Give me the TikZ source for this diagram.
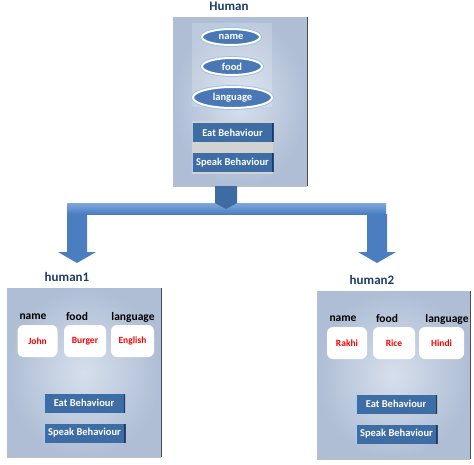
\documentclass[tikz,border=0pt]{standalone}
\usepackage{fontspec}
\setmainfont{Carlito}
\usetikzlibrary{shapes.geometric}

\definecolor{panelin}{HTML}{D6DFEC}
\definecolor{panelout}{HTML}{AFBED5}
\definecolor{edgedark}{HTML}{4A4D52}
\definecolor{btnblue}{HTML}{3E6DA6}
\definecolor{btnlight}{HTML}{A9CDEE}
\definecolor{btndark}{HTML}{1F3A5E}
\definecolor{ellblue}{HTML}{4A78B6}
\definecolor{ellrim}{HTML}{9CC0E6}
\definecolor{flow}{HTML}{4A7EC0}
\definecolor{flowlight}{HTML}{7FA8DC}
\definecolor{titlecol}{HTML}{1F3B66}

\begin{document}
\begin{tikzpicture}[x=1pt,y=-1pt,
	every node/.style={font=\bfseries\fontsize{11.5}{13}\selectfont},
	panel/.style={rectangle,inner color=panelin,outer color=panelout,inner sep=0},
	title/.style={text=titlecol,font=\bfseries\fontsize{13}{15}\selectfont},
	attr/.style={ellipse,fill=ellblue,draw=white,line width=2pt,text=white,inner sep=0,
		preaction={draw=ellrim,line width=3.8pt},font=\bfseries\fontsize{10.5}{12}\selectfont},
	button/.style={rectangle,fill=btnblue,text=white,minimum width=82,minimum height=19,inner sep=0,
		font=\bfseries\fontsize{10.5}{12}\selectfont,
		path picture={\draw[btnlight,line width=3pt] (path picture bounding box.north west) -- (path picture bounding box.south west);
			\draw[btndark,line width=3pt] (path picture bounding box.north east) -- (path picture bounding box.south east);}},
	value/.style={rectangle,rounded corners=6,fill=white,minimum width=40,minimum height=32,inner sep=0,
		text=red,font=\bfseries\fontsize{9.5}{11}\selectfont}]
	\useasboundingbox (0,0) rectangle (474,464);

	% class
	\node[panel,minimum width=134,minimum height=169] (human) at (240,101.5) {};
	\draw[edgedark,line width=1.2pt] (human.north east) -- (human.south east);
	\draw[gray!50] (human.south west) -- (human.south east);
	\node[title] (humanlbl) at (229,6) {Human};
	\fill[white,opacity=0.18] (192,23) rectangle (272,107);
	\fill[gray!35] (192,121) rectangle (273,174);
	\node[attr,minimum width=58,minimum height=16] (name) at (231,37) {name};
	\node[attr,minimum width=60,minimum height=17] (food) at (232,66.5) {food};
	\node[attr,minimum width=79,minimum height=21] (language) at (232.5,97.5) {language};
	\node[button] (eat) at (232.5,132.5) {Eat Behaviour};
	\node[button] (speak) at (232.5,162.5) {Speak Behaviour};

	% arrows
	\coordinate (fork) at (226,186);
	\coordinate (left) at (77,214);
	\coordinate (right) at (377,214);
	\shade[top color=flowlight,bottom color=flow] (67,203) rectangle (386,214);
	\fill[flow!85!black] ([xshift=-11]fork) -- ++(22,0) -- ++(0,17) -- ++(-11,6) -- ++(-11,-6) -- cycle;
	\fill[flow] ([xshift=-10]left) -- ++(20,0) -- ++(0,38) -- ++(9,0) -- ++(-19,11) -- ++(-19,-11) -- ++(9,0) -- cycle;
	\fill[flow] ([xshift=-10]right) -- ++(20,0) -- ++(0,38) -- ++(9,0) -- ++(-19,11) -- ++(-19,-11) -- ++(9,0) -- cycle;

	% object 1
	\node[panel,minimum width=154,minimum height=169] (human1) at (84,372.5) {};
	\draw[edgedark,line width=1.2pt] (human1.north east) -- (human1.south east);
	\draw[gray!50] (human1.south west) -- (human1.south east);
	\node[title] (human1lbl) at (67,277) {human1};
	\node (h1namelbl) at (33,317) {name};
	\node (h1foodlbl) at (77,317) {food};
	\node (h1langlbl) at (133,317) {language};
	\node[value] (h1name) at (37.5,341) {John};
	\node[value,minimum width=42] (h1food) at (85,341) {Burger};
	\node[value,minimum width=43] (h1lang) at (132.5,341) {English};
	\node[button] (h1eat) at (84,403) {Eat Behaviour};
	\node[button] (h1speak) at (84.5,433) {Speak Behaviour};

	% object 2
	\node[panel,minimum width=153,minimum height=168] (human2) at (393.5,375) {};
	\draw[edgedark,line width=1.2pt] (human2.north east) -- (human2.south east);
	\draw[gray!50] (human2.south west) -- (human2.south east);
	\node[title] (human2lbl) at (372,280) {human2};
	\node (h2namelbl) at (343,319) {name};
	\node (h2foodlbl) at (387,319) {food};
	\node (h2langlbl) at (447,319) {language};
	\node[value] (h2name) at (347,343) {Rakhi};
	\node[value,minimum width=42] (h2food) at (394,343) {Rice};
	\node[value,minimum width=45] (h2lang) at (441.5,343) {Hindi};
	\node[button] (h2eat) at (396,404) {Eat Behaviour};
	\node[button] (h2speak) at (396.5,434) {Speak Behaviour};
\end{tikzpicture}
\end{document}
